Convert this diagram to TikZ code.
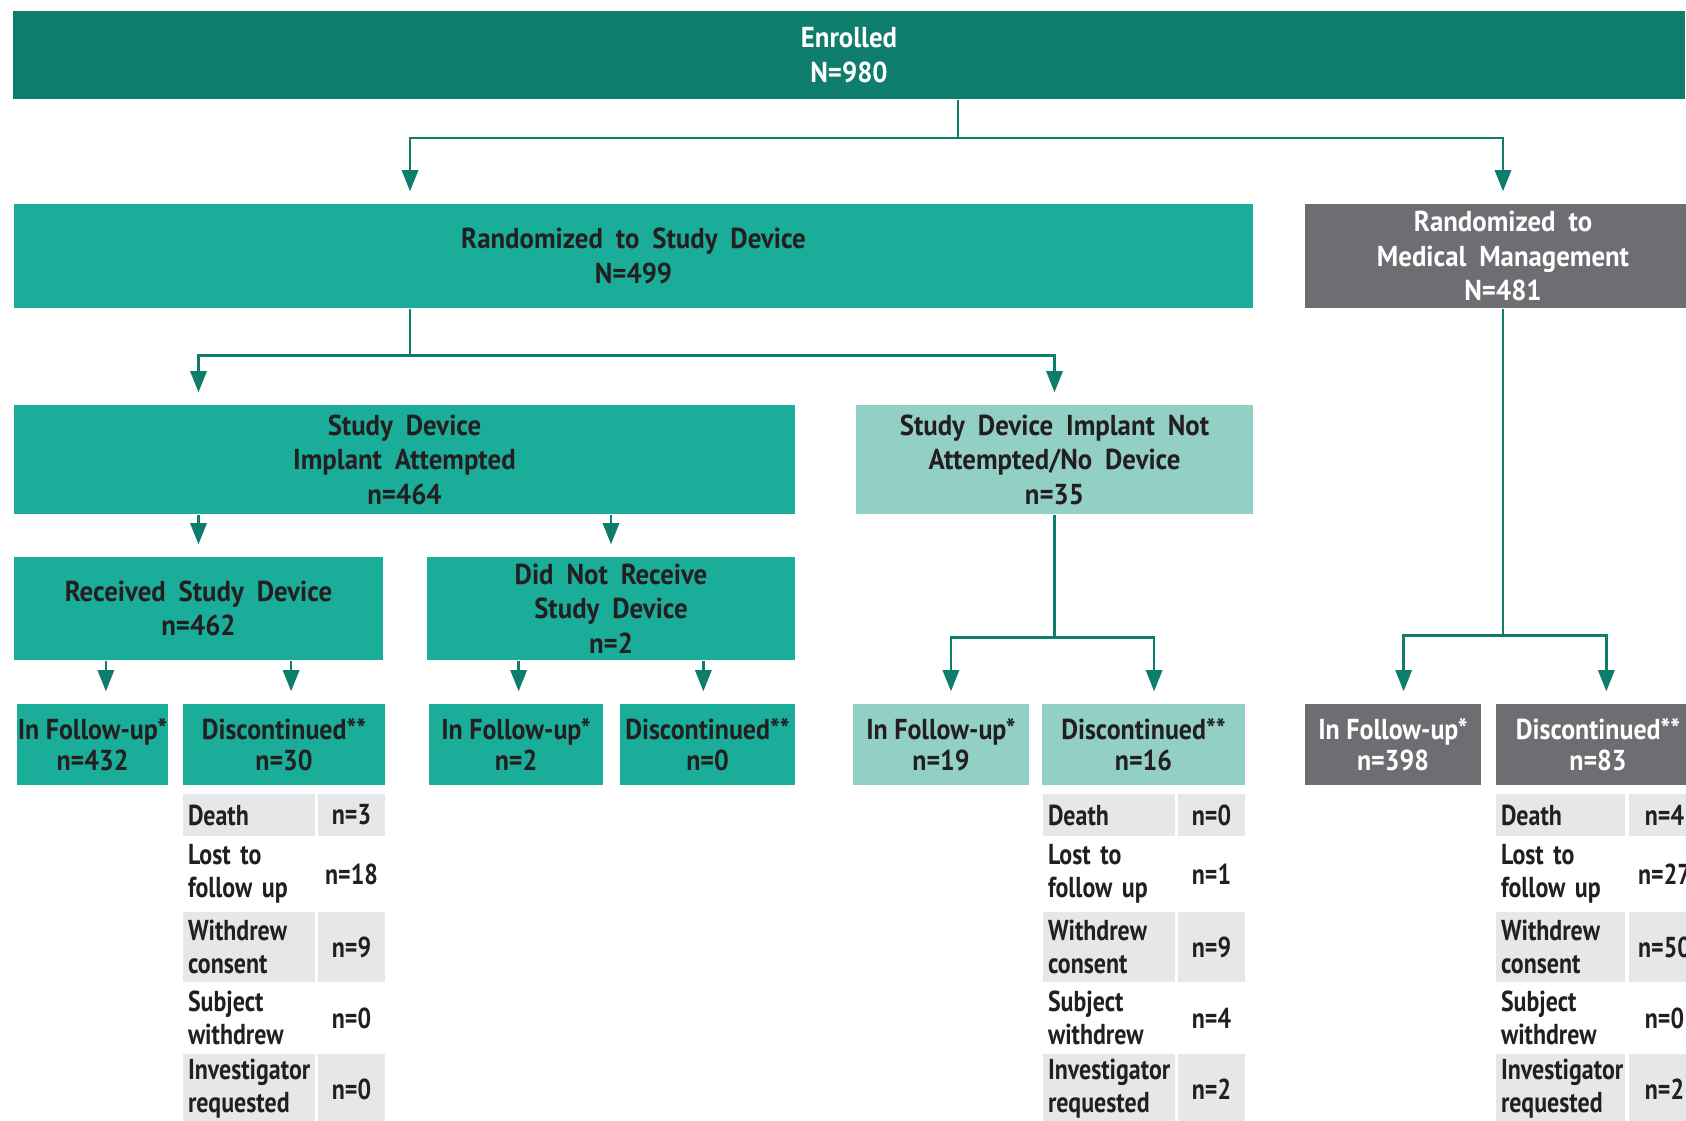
\documentclass[tikz,border=0pt]{standalone}
\usepackage{fontspec}
\setmainfont{PT Sans}[FakeStretch=0.9]
\newfontfamily\boxfont{PT Sans}[FakeStretch=0.93, WordSpace=1.9]
\newfontfamily\cellfont{PT Sans}[FakeStretch=0.83]
\usetikzlibrary{arrows.meta,positioning,calc}

\definecolor{tealdark}{HTML}{0F7D6B}
\definecolor{tealmid}{HTML}{1AAE9A}
\definecolor{teallight}{HTML}{92D0C6}
\definecolor{mgmtgray}{HTML}{6D6E71}
\definecolor{rowgray}{HTML}{E6E7E8}
\definecolor{inkdark}{HTML}{231F20}

\tikzset{
  box/.style={rectangle, inner sep=0pt, align=center,
    font=\boxfont\bfseries\fontsize{8.2}{9.8}\selectfont},
  small/.style={font=\bfseries\fontsize{8.2}{8.7}\selectfont},
  topbox/.style={box, fill=tealdark, text=white},
  devbox/.style={box, fill=tealmid, text=inkdark},
  nodevbox/.style={box, fill=teallight, text=inkdark},
  medbox/.style={box, fill=mgmtgray, text=white},
  cell/.style={rectangle, inner sep=0pt, text=inkdark,
    font=\cellfont\bfseries\fontsize{8.2}{9.4}\selectfont},
  link/.style={draw=tealdark, line width=0.7pt},
  arr/.style={link, -{Triangle[width=4.6pt,length=6pt]}, shorten >=0.12cm}
}

\begin{document}
\begin{tikzpicture}
  \useasboundingbox (0,0) rectangle (16.86,-11.2);
  \clip (0,0) rectangle (16.86,-11.2);

  % boxes
  \node[topbox, minimum width=16.72cm, minimum height=0.88cm] (enrolled) at (8.49,-0.55) {Enrolled\\N=980};
  \node[devbox, minimum width=12.39cm, minimum height=1.04cm] (randDev) at (6.335,-2.56) {Randomized to Study Device\\N=499};
  \node[medbox, minimum width=3.96cm, minimum height=1.04cm] (randMed) at (15.03,-2.56) {Randomized to\\Medical Management\\N=481};
  \node[devbox, minimum width=7.81cm, minimum height=1.09cm] (attempted) at (4.045,-4.595) {Study Device\\Implant Attempted\\n=464};
  \node[nodevbox, minimum width=3.97cm, minimum height=1.09cm] (notAttempted) at (10.545,-4.595) {Study Device Implant Not\\Attempted/No Device\\n=35};
  \node[devbox, minimum width=3.69cm, minimum height=1.03cm] (received) at (1.985,-6.085) {Received Study Device\\n=462};
  \node[devbox, minimum width=3.68cm, minimum height=1.03cm] (notReceived) at (6.11,-6.085) {Did Not Receive\\Study Device\\n=2};

  \node[devbox, small, minimum width=1.51cm, minimum height=0.81cm] (fuRec) at (0.925,-7.445) {In Follow-up*\\n=432};
  \node[devbox, small, minimum width=2.02cm, minimum height=0.81cm] (discRec) at (2.84,-7.445) {Discontinued**\\n=30};
  \node[devbox, small, minimum width=1.74cm, minimum height=0.81cm] (fuNot) at (5.16,-7.445) {In Follow-up*\\n=2};
  \node[devbox, small, minimum width=1.75cm, minimum height=0.81cm] (discNot) at (7.075,-7.445) {Discontinued**\\n=0};
  \node[nodevbox, small, minimum width=1.76cm, minimum height=0.81cm] (fuNA) at (9.41,-7.445) {In Follow-up*\\n=19};
  \node[nodevbox, small, minimum width=2.03cm, minimum height=0.81cm] (discNA) at (11.435,-7.445) {Discontinued**\\n=16};
  \node[medbox, small, minimum width=1.76cm, minimum height=0.81cm] (fuMed) at (13.93,-7.445) {In Follow-up*\\n=398};
  \node[medbox, small, minimum width=2.04cm, minimum height=0.81cm] (discMed) at (15.98,-7.445) {Discontinued**\\n=83};

  % reasons for discontinuation
  \foreach \ry/\rh/\rfill/\lab/\va/\vb/\vc [count=\i] in {
      8.15/0.42/rowgray/Death/3/0/4,
      8.74/0.72/white/{Lost to\\follow up}/18/1/27,
      9.47/0.70/rowgray/{Withdrew\\consent}/9/9/50,
      10.18/0.68/white/{Subject\\withdrew}/0/4/0,
      10.89/0.70/rowgray/{Investigator\\requested}/0/2/2}
  {
    \node[cell, fill=\rfill, align=left, inner xsep=0.05cm, text width=1.22cm, minimum height=\rh cm] (recWhy\i) at (2.49,-\ry) {\lab};
    \node[cell, fill=\rfill, minimum width=0.67cm, minimum height=\rh cm] (recN\i) at (3.515,-\ry) {n=\va};
    \node[cell, fill=\rfill, align=left, inner xsep=0.05cm, text width=1.22cm, minimum height=\rh cm] (naWhy\i) at (11.09,-\ry) {\lab};
    \node[cell, fill=\rfill, minimum width=0.67cm, minimum height=\rh cm] (naN\i) at (12.115,-\ry) {n=\vb};
    \node[cell, fill=\rfill, align=left, inner xsep=0.05cm, text width=1.19cm, minimum height=\rh cm] (medWhy\i) at (15.605,-\ry) {\lab};
    \node[cell, fill=\rfill, minimum width=0.71cm, minimum height=\rh cm] (medN\i) at (16.645,-\ry) {n=\vc};
  }

  % connectors
  \coordinate (devAxis) at (4.10,0);
  \coordinate (splitTop) at (9.58,-1.38);
  \draw[link] (enrolled.south -| splitTop) -- (splitTop);
  \draw[arr] (splitTop) -| (randDev.north -| devAxis);
  \draw[arr] (splitTop) -| (randMed.north);

  \draw[link] (randDev.south -| devAxis) -- ++(0,-0.47) coordinate (splitDev);
  \draw[arr] (splitDev) -| (attempted.north -| received.north);
  \draw[arr] (splitDev) -| (notAttempted.north);

  \draw[arr] (attempted.south -| received.north) -- (received.north);
  \draw[arr] (attempted.south -| notReceived.north) -- (notReceived.north);

  \coordinate (recL) at ($(received.south west)!.25!(received.south east)$);
  \coordinate (recR) at ($(received.south west)!.75!(received.south east)$);
  \draw[arr] (recL) -- (recL |- fuRec.north);
  \draw[arr] (recR) -- (recR |- discRec.north);

  \coordinate (notL) at ($(notReceived.south west)!.25!(notReceived.south east)$);
  \coordinate (notR) at ($(notReceived.south west)!.75!(notReceived.south east)$);
  \draw[arr] (notL) -- (notL |- fuNot.north);
  \draw[arr] (notR) -- (notR |- discNot.north);

  \coordinate (naL) at ($(notAttempted.south west)!.24!(notAttempted.south east)$);
  \coordinate (naR) at ($(notAttempted.south west)!.75!(notAttempted.south east)$);
  \draw[link] (notAttempted.south) -- ++(0,-1.23) coordinate (splitNA);
  \draw[arr] (splitNA) -| (naL |- fuNA.north);
  \draw[arr] (splitNA) -| (naR |- discNA.north);

  \coordinate (medL) at ($(randMed.south west)!.25!(randMed.south east)$);
  \coordinate (medR) at ($(randMed.south west)!.76!(randMed.south east)$);
  \draw[link] (randMed.south) -- ++(0,-3.27) coordinate (splitMed);
  \draw[arr] (splitMed) -| (medL |- fuMed.north);
  \draw[arr] (splitMed) -| (medR |- discMed.north);
\end{tikzpicture}
\end{document}
